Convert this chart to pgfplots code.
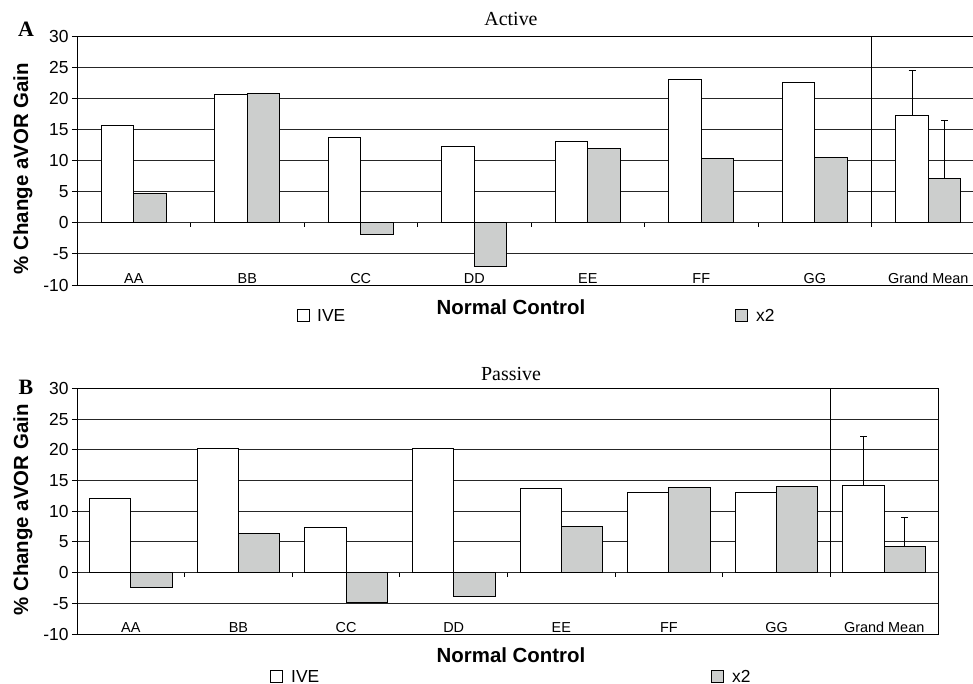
\documentclass[border=0pt]{standalone}
\usepackage{fontspec}
\setmainfont{Liberation Sans}
\newfontfamily\seriffont{Liberation Serif}
\usepackage{pgfplots}
\pgfplotsset{compat=1.18}
\definecolor{barg}{RGB}{204,206,205}

\pgfplotsset{
  panel/.style={
    scale only axis,
    anchor=north west,
    xmin=-0.5, xmax=7.5, ymin=-10, ymax=30,
    ytick={-10,-5,0,5,10,15,20,25,30},
    yticklabels={-10,-5,0,5,10,15,20,25,30},
    xtick={0,1,2,3,4,5,6,7},
    xticklabels={AA,BB,CC,DD,EE,FF,GG,Grand Mean},
    x tick style={draw=none},
    y tick style={black, line width=0.8bp},
    ytick pos=left,
    tick align=outside,
    major tick length=5bp,
    xticklabel style={font=\fontsize{14.5}{16}\selectfont, anchor=center, yshift=11.5bp},
    yticklabel style={font=\fontsize{17.5}{19}\selectfont},
    ymajorgrids,
    grid style={black!85, line width=0.8bp},
    every outer x axis line/.append style={line width=1.4bp},
    every outer y axis line/.append style={line width=1bp},
    ybar=0pt,
  },
  ivebar/.style={fill=white, draw=black, line width=0.9bp},
  x2bar/.style={fill=barg, draw=black, line width=0.9bp},
  errplot/.style={draw=none, fill=none, forget plot,
    error bars/y dir=plus, error bars/y explicit,
    error bars/error bar style={black, line width=0.9bp, solid},
    error bars/error mark options={rotate=90, mark size=3.5bp, line width=1.2bp, black, solid}},
}

\begin{document}
\begin{tikzpicture}
% ---------------- Panel A ----------------
\begin{axis}[panel, at={(77bp,-36bp)}, width=908bp, height=249bp, bar width=32.5bp]
\addplot[ivebar, bar shift=-16.25bp] coordinates {
  (0,15.7) (1,20.6) (2,13.65) (3,12.3) (4,13.0) (5,23.0) (6,22.5) (7,17.2)
};
\addplot[x2bar, bar shift=16.25bp] coordinates {
  (0,4.7) (1,20.7) (2,-1.9) (3,-7.0) (4,12.0) (5,10.4) (6,10.5) (7,7.07)
};
\addplot[errplot, bar shift=-16.25bp] coordinates {(7,17.2) +- (0,7.2)};
\addplot[errplot, bar shift=16.25bp] coordinates {(7,7.07) +- (0,9.3)};
\draw[black, line width=1bp] (axis cs:6.5,30) -- (axis cs:6.5,-0.75);
\pgfplotsinvokeforeach{0.5,1.5,2.5,3.5,4.5,5.5}{
  \draw[black, line width=0.8bp] (axis cs:#1,0) -- (axis cs:#1,-0.75);
}
\end{axis}

% ---------------- Panel B ----------------
\begin{axis}[panel, at={(77bp,-388.3bp)}, width=861bp, height=245.7bp, bar width=41.3bp]
\addplot[ivebar, bar shift=-20.65bp] coordinates {
  (0,12.0) (1,20.25) (2,7.3) (3,20.25) (4,13.75) (5,13.0) (6,13.0) (7,14.2)
};
\addplot[x2bar, bar shift=20.65bp] coordinates {
  (0,-2.5) (1,6.3) (2,-4.8) (3,-3.85) (4,7.5) (5,13.85) (6,14.0) (7,4.3)
};
\addplot[errplot, bar shift=-20.65bp] coordinates {(7,14.2) +- (0,7.9)};
\addplot[errplot, bar shift=20.65bp] coordinates {(7,4.3) +- (0,4.65)};
\draw[black, line width=1bp] (axis cs:6.5,30) -- (axis cs:6.5,-0.75);
\pgfplotsinvokeforeach{0.5,1.5,2.5,3.5,4.5,5.5}{
  \draw[black, line width=0.8bp] (axis cs:#1,0) -- (axis cs:#1,-0.75);
}
\end{axis}

% ---------------- Texts ----------------
\node[font=\seriffont\fontsize{20}{22}\selectfont] at (511bp,-19bp) {Active};
\node[font=\seriffont\fontsize{20}{22}\selectfont] at (511bp,-374bp) {Passive};
\node[font=\seriffont\bfseries\fontsize{22}{24}\selectfont] at (26bp,-29bp) {A};
\node[font=\seriffont\bfseries\fontsize{22}{24}\selectfont] at (26bp,-387bp) {B};
\node[font=\bfseries\fontsize{20.5}{22}\selectfont, rotate=90] at (23bp,-168.5bp) {\% Change aVOR Gain};
\node[font=\bfseries\fontsize{20.5}{22}\selectfont, rotate=90] at (23bp,-510bp) {\% Change aVOR Gain};
\node[font=\bfseries\fontsize{20.5}{22}\selectfont] at (511bp,-307bp) {Normal Control};
\node[font=\bfseries\fontsize{20.5}{22}\selectfont] at (511bp,-655bp) {Normal Control};
% legends
\draw[fill=white, draw=black, line width=1bp] (297bp,-309bp) rectangle (309bp,-321bp);
\node[anchor=west, inner sep=0pt, font=\fontsize{17.5}{20}\selectfont] at (317bp,-315bp) {IVE};
\draw[fill=barg, draw=black, line width=1bp] (735bp,-309bp) rectangle (747bp,-321bp);
\node[anchor=west, inner sep=0pt, font=\fontsize{17.5}{20}\selectfont] at (756bp,-315bp) {x2};
\draw[fill=white, draw=black, line width=1bp] (270bp,-670bp) rectangle (282bp,-682bp);
\node[anchor=west, inner sep=0pt, font=\fontsize{17.5}{20}\selectfont] at (291bp,-676bp) {IVE};
\draw[fill=barg, draw=black, line width=1bp] (711bp,-670bp) rectangle (723bp,-682bp);
\node[anchor=west, inner sep=0pt, font=\fontsize{17.5}{20}\selectfont] at (732bp,-676bp) {x2};

\pgfresetboundingbox
\useasboundingbox (0,0) rectangle (973bp,-684bp);
\end{tikzpicture}
\end{document}
